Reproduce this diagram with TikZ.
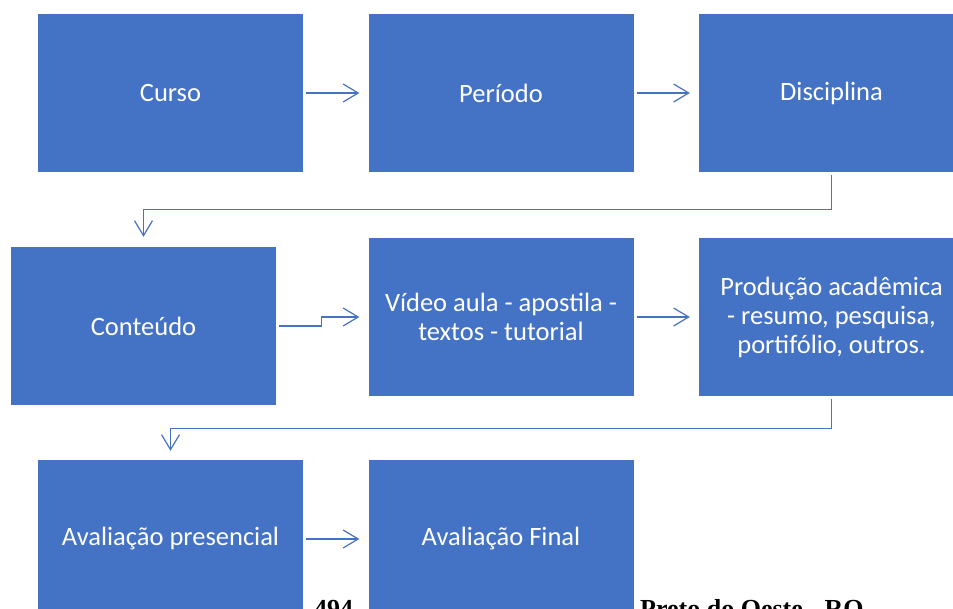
\documentclass[tikz,border=0pt]{standalone}
\usepackage{fontspec}
\setmainfont{Carlito}
\newfontfamily\footserif{Liberation Serif}
\usetikzlibrary{arrows.meta}
\definecolor{boxblue}{HTML}{4472C4}
\tikzset{
  flowbox/.style={rectangle, fill=boxblue, draw=none, minimum width=265pt, minimum height=158pt,
    inner sep=0pt, text=white, align=center, font=\fontsize{26.5}{29}\selectfont},
  conn/.style={draw=boxblue, line width=1.2pt, -{Straight Barb[length=15pt,width=18pt]}},
  foottext/.style={anchor=base west, inner sep=0pt, font=\footserif\bfseries\fontsize{26}{30}\selectfont}
}
\begin{document}
\begin{tikzpicture}[x=1pt,y=-1pt]
\useasboundingbox (0,0) rectangle (953,609);
\clip (0,0) rectangle (953,609);
\node[foottext] (pg) at (314,617) {494};
\node[foottext] (city) at (640,617) {Preto do Oeste - RO};
\node[flowbox] (curso) at (170.5,93) {Curso};
\node[flowbox] (periodo) at (501,93) {Período};
\node[flowbox] (disc) at (831.5,93) {Disciplina};
\node[flowbox] (cont) at (143.5,326) {Conteúdo};
\node[flowbox] (video) at (501,317) {Vídeo aula - apostila -\\textos - tutorial};
\node[flowbox] (prod) at (831.5,317) {Produção acadêmica\\- resumo, pesquisa,\\portifólio, outros.};
\node[flowbox] (avpres) at (170.5,539) {Avaliação presencial};
\node[flowbox] (avfin) at (501,539) {Avaliação Final};
\draw[conn] ([xshift=3pt]curso.east) -- ([xshift=-9pt]periodo.west);
\draw[conn] ([xshift=3pt]periodo.east) -- ([xshift=-9pt]disc.west);
\draw[conn] ([yshift=-3pt]disc.south) -- ++(0,34) -| ([yshift=10pt]cont.north);
\draw[conn] ([xshift=3pt]cont.east) -- ++(42.5,0) |- ([xshift=-9pt]video.west);
\draw[conn] ([xshift=3pt]video.east) -- ([xshift=-9pt]prod.west);
\draw[conn] ([yshift=-3pt]prod.south) -- ++(0,29) -| ([yshift=9pt]avpres.north);
\draw[conn] ([xshift=3pt]avpres.east) -- ([xshift=-9pt]avfin.west);
\end{tikzpicture}
\end{document}
